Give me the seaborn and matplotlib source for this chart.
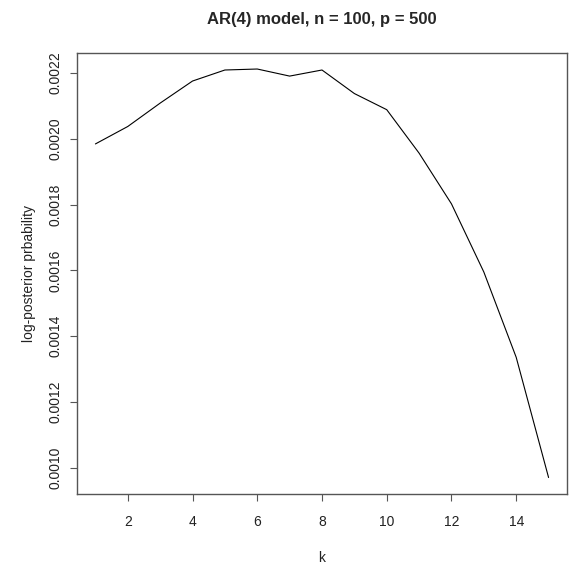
import matplotlib
matplotlib.use("Agg")
import matplotlib.pyplot as plt
import seaborn as sns
import pandas as pd

k = list(range(1, 16))
log_post = [0.001984, 0.002037, 0.002108, 0.002175, 0.0022085, 0.0022115,
            0.002190, 0.0022085, 0.002137, 0.002088, 0.001956, 0.001802,
            0.001595, 0.001336, 0.000971]
xticks = [2, 4, 6, 8, 10, 12, 14]
yticks = [0.0010, 0.0012, 0.0014, 0.0016, 0.0018, 0.0020, 0.0022]
ytick_labels = ["0.0010", "0.0012", "0.0014", "0.0016", "0.0018", "0.0020", "0.0022"]

sns.set_theme(style="ticks")
plt.rcParams['font.family'] = ['Liberation Sans', 'DejaVu Sans']

df = pd.DataFrame({"k": k, "lp": log_post})

fig = plt.figure(figsize=(5.73, 5.65), dpi=100)
ax = fig.add_axes([0.1349, 0.1257, 0.989 - 0.1349, 0.9067 - 0.1257])
sns.lineplot(data=df, x="k", y="lp", ax=ax, color="black", linewidth=0.8)

ax.set_xlim(0.44, 15.56)
ax.set_ylim(0.000921, 0.002261)
ax.set_xticks(xticks)
ax.set_xticklabels([str(t) for t in xticks], fontsize=10)
ax.set_yticks(yticks)
ax.set_yticklabels(ytick_labels, fontsize=10, rotation=90, va="center")
for s in ax.spines.values():
    s.set_color("#555555")
    s.set_linewidth(1.0)
ax.tick_params(axis="both", direction="out", length=5, width=0.8, color="#555555",
               labelcolor="#222222")
ax.tick_params(axis="x", pad=10)
ax.tick_params(axis="y", pad=6)
ax.set_xlabel("k", fontsize=10, labelpad=16, color="#222222")
ax.set_ylabel("log-posterior prbability", fontsize=10, labelpad=9, color="#222222")
ax.set_title("AR(4) model, n = 100, p = 500", fontsize=12, fontweight="bold", pad=21)

fig.savefig("out.png", dpi=100)
